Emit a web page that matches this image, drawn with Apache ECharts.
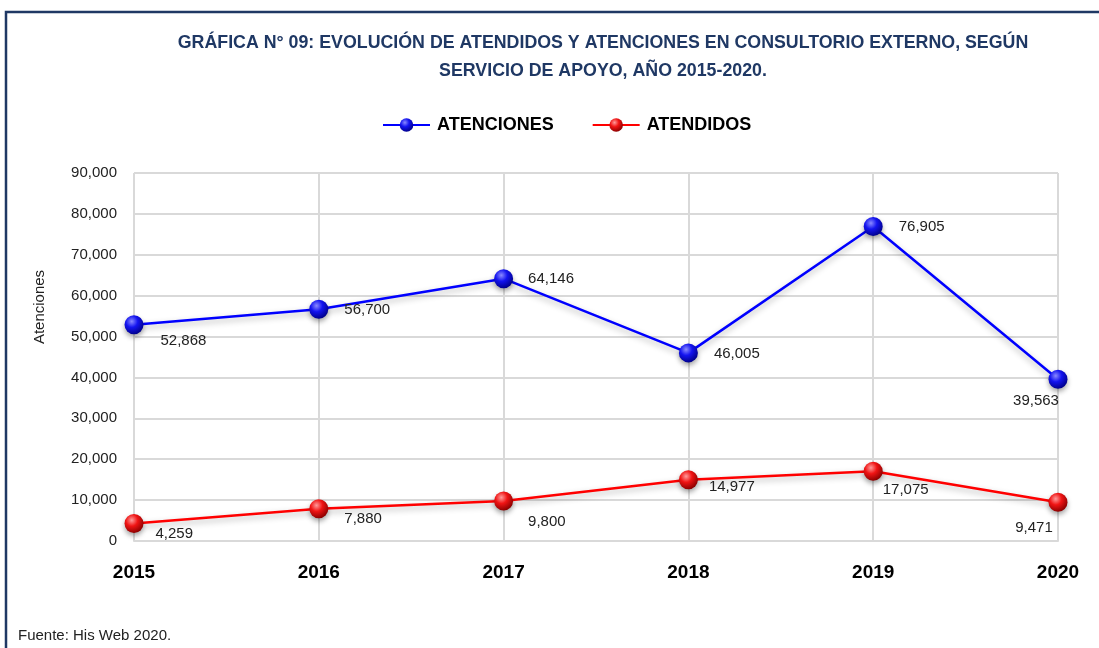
<!DOCTYPE html>
<html><head><meta charset="utf-8">
<script src="https://cdn.jsdelivr.net/npm/echarts@6/dist/echarts.min.js"></script>
<style>html,body{margin:0;padding:0;background:#fff}#c{width:1099px;height:648px}</style>
</head><body><div id="c"></div>
<script>
const years = ['2015','2016','2017','2018','2019','2020'];
const atenciones = [52868, 56700, 64146, 46005, 76905, 39563];
const atendidos = [4259, 7880, 9800, 14977, 17075, 9471];
const yTicks = {min: 0, max: 90000, interval: 10000};

// label placement (style only)
const atencionesLabelPos = [['right',[12,16]],['right',[11,1]],['right',[10,0]],['right',[11,1]],['right',[11,0]],['bottom',[-22,0]]];
const atendidosLabelPos = [['right',[7,10]],['right',[11,10]],['right',[10,21]],['right',[6,7]],['right',[-5,19]],['bottom',[-24,4]]];

const FONT = "'Liberation Sans Narrow','Arial Narrow','Liberation Sans',sans-serif";
const fmt = v => v.toLocaleString('en-US');

function sphere(c1, c2, c3) {
  return {type:'radial', x:0.38, y:0.32, r:0.7, colorStops:[
    {offset:0, color:c1},{offset:0.45, color:c2},{offset:1, color:c3}]};
}

function buildData(vals, pos) {
  return vals.map((v,i)=>({value:v, label:{position:pos[i][0], offset:pos[i][1]}}));
}

const chart = echarts.init(document.getElementById('c'), null, {renderer:'canvas'});
chart.setOption({
  animation:false,
  backgroundColor:'#fff',
  title:{
    text:'GRÁFICA N° 09: EVOLUCIÓN DE ATENDIDOS Y ATENCIONES EN CONSULTORIO EXTERNO, SEGÚN\nSERVICIO DE APOYO, AÑO 2015-2020.',
    left:598, top:24, textAlign:'center',
    textStyle:{fontFamily:FONT, fontWeight:'bold', fontSize:17.8, color:'#1F3864', lineHeight:28}
  },
  legend:{
    top:111, left:377,
    itemWidth:47, itemHeight:17, itemGap:38,
    textStyle:{fontFamily:FONT, fontWeight:'bold', fontSize:18, color:'#000', padding:[0,0,0,2]},
    data:['ATENCIONES','ATENDIDOS']
  },
  grid:{left:134, right:41, top:173, bottom:107, containLabel:false},
  xAxis:{
    type:'category', data:years, boundaryGap:false,
    axisLine:{show:true, lineStyle:{color:'#d9d9d9', width:2}},
    axisTick:{show:false},
    splitLine:{show:true, lineStyle:{color:'#d9d9d9', width:2}},
    axisLabel:{fontFamily:FONT, fontWeight:'bold', fontSize:19, color:'#000', margin:22}
  },
  yAxis:{
    type:'value', min:yTicks.min, max:yTicks.max, interval:yTicks.interval,
    axisLine:{show:false}, axisTick:{show:false},
    splitLine:{show:true, lineStyle:{color:'#d9d9d9', width:2}},
    axisLabel:{fontFamily:FONT, fontSize:15, color:'#222', margin:17, formatter:v=>fmt(v)}
  },
  graphic:[
    {type:'rect', shape:{x:6, y:12, width:1200, height:800}, style:{fill:'none', stroke:'#1F3864', lineWidth:2.5}, z:-1},
    {type:'text', x:40, y:307, rotation:Math.PI/2, style:{text:'Atenciones', fontFamily:FONT, fontSize:15, fill:'#222', align:'center', verticalAlign:'middle'}},
    {type:'text', left:18, top:628, style:{text:'Fuente: His Web 2020.', fontFamily:FONT, fontSize:15, fill:'#222'}}
  ],
  series:[
    {
      name:'ATENCIONES', type:'line', data:buildData(atenciones, atencionesLabelPos),
      symbol:'circle', symbolSize:19,
      lineStyle:{color:'#0000FF', width:2.5, shadowColor:'rgba(0,0,0,0.3)', shadowBlur:6, shadowOffsetY:3},
      itemStyle:{color:sphere('#8a8aff','#1414f0','#00008a'), shadowColor:'rgba(0,0,0,0.35)', shadowBlur:5, shadowOffsetY:3},
      label:{show:true, fontFamily:FONT, fontSize:15, color:'#222', formatter:p=>fmt(p.value)},
      z:3
    },
    {
      name:'ATENDIDOS', type:'line', data:buildData(atendidos, atendidosLabelPos),
      symbol:'circle', symbolSize:19,
      lineStyle:{color:'#FF0000', width:2.5, shadowColor:'rgba(0,0,0,0.3)', shadowBlur:6, shadowOffsetY:3},
      itemStyle:{color:sphere('#ff9a9a','#f01414','#8a0000'), shadowColor:'rgba(0,0,0,0.35)', shadowBlur:5, shadowOffsetY:3},
      label:{show:true, fontFamily:FONT, fontSize:15, color:'#222', formatter:p=>fmt(p.value)},
      z:3
    }
  ]
});
</script></body></html>
